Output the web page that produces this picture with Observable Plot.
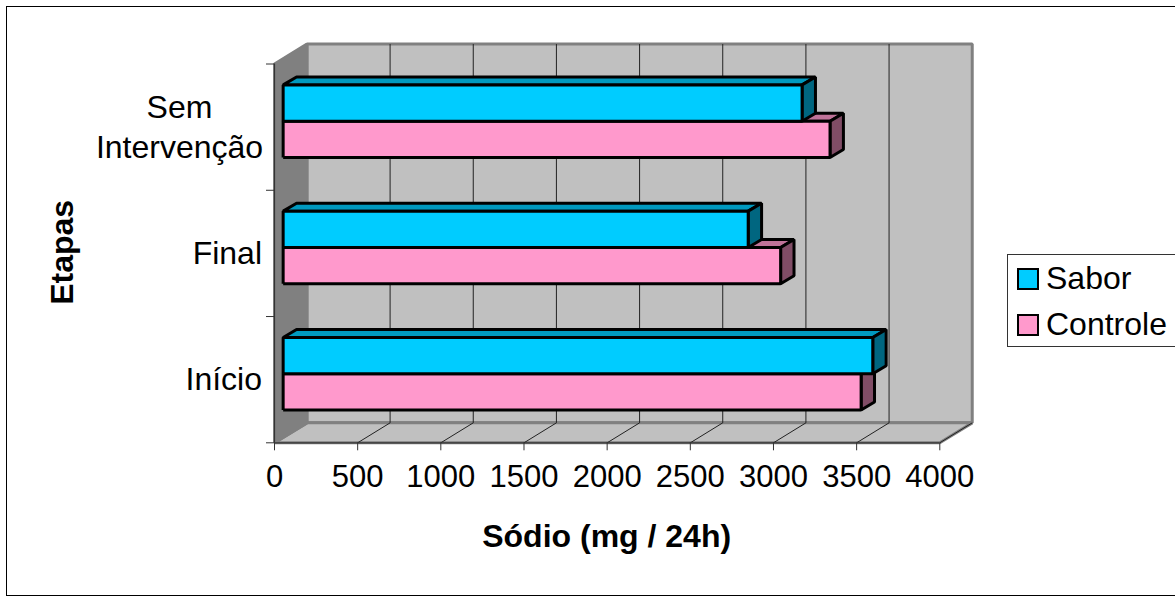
<!DOCTYPE html>
<html>
<head>
<meta charset="utf-8">
<script src="https://cdn.jsdelivr.net/npm/d3@7"></script>
<script src="https://cdn.jsdelivr.net/npm/@observablehq/plot@0.6"></script>
<style>
html,body{margin:0;padding:0;background:#fff;overflow:hidden}
#page{position:relative;width:1175px;height:596px;overflow:hidden;font-family:"Liberation Sans",Arial,sans-serif}
#border{position:absolute;left:6px;top:6px;width:1400px;height:588px;border:1px solid #000;pointer-events:none}
#legend{position:absolute;left:1007px;top:254px;width:400px;height:91px;border:1px solid #333;background:#fff}
.sw{position:absolute;left:9px;width:18px;height:18px;border:2.5px solid #000}
.lb{position:absolute;left:38px;font-size:32px;line-height:36px;color:#000;white-space:nowrap}
</style>
</head>
<body>
<div id="page"><div id="chart"></div><div id="border"></div><div id="legend"></div></div>
<script>
// Data
const categories = ["Início", "Final", "Sem\nIntervenção"];
const sabor = [3545, 2796, 3120];
const controle = [3475, 2991, 3288];
const xTicks = [0, 500, 1000, 1500, 2000, 2500, 3000, 3500, 4000];
const gridTicks = [500, 1000, 1500, 2000, 2500, 3000, 3500];
const yTicks = [0, 1, 2, 3];
const seriesNames = ["Sabor", "Controle"];
const frontColors = ["#00CCFF", "#FF99CC"];
const topColors = ["#0099BF", "#BF7399"];
const sideColors = ["#006680", "#804D66"];
const xLabel = "Sódio (mg / 24h)";
const yLabel = "Etapas";

// 3D projection offsets, in data units of each scale
const depthX = 195, depthY = 0.158;
const barFrontX = 52, barFrontY = 0.047, barBackX = 132.5, barBackY = 0.11;
const barHalf = 0.2875;

let nextId = 0;
function poly(points, fill, stroke) {
  const id = nextId++;
  return points.map(([x, y]) => ({id, x, y, fill, stroke}));
}

const room = [
  ...poly([[depthX,depthY],[4000+depthX,depthY],[4000+depthX,3+depthY],[depthX,3+depthY],[depthX,depthY]], "#C0C0C0", "#808080"),
  ...poly([[0,0],[4000,0],[4000+depthX,depthY],[depthX,depthY],[0,0]], "#C0C0C0", "#808080"),
  ...poly([[0,0],[depthX,depthY],[depthX,3+depthY],[0,3],[0,0]], "#808080", "#808080")
];
const grid = gridTicks.concat(4000).flatMap(t => poly(
  [[t,0],[t+depthX,depthY]].concat(t < 4000 ? [[t+depthX,3+depthY]] : []), "none", "#222"));

function bar(i, s, value) {
  const yc = i + 0.5;
  const hi = (s === 0 ? yc + barHalf : yc) + barFrontY;
  const lo = (s === 0 ? yc : yc - barHalf) + barFrontY;
  const x0 = barFrontX, x1 = value + barFrontX;
  const dx = barBackX - barFrontX, dy = barBackY - barFrontY;
  return [
    ...poly([[x0,hi],[x0+dx,hi+dy],[x1+dx,hi+dy],[x1,hi],[x0,hi]], topColors[s], "#000"),
    ...poly([[x1,hi],[x1+dx,hi+dy],[x1+dx,lo+dy],[x1,lo],[x1,hi]], sideColors[s], "#000"),
    ...poly([[x0,lo],[x1,lo],[x1,hi],[x0,hi],[x0,lo]], frontColors[s], "#000")
  ];
}
const bars = categories.flatMap((c, i) => [...bar(i, 1, controle[i]), ...bar(i, 0, sabor[i])]);

const polyOpts = {x:"x", y:"y", z:"id", fill:"fill", stroke:"stroke", strokeLinejoin:"miter", strokeLinecap:"butt", strokeOpacity:1};

const chart = Plot.plot({
  width: 1175, height: 596,
  marginLeft: 274, marginRight: 235.7, marginTop: 63.5, marginBottom: 153.7,
  x: {domain: [0, 4000]},
  y: {domain: [0, 3]},
  color: {type: "identity"},
  style: {fontFamily: "'Liberation Sans', Arial, sans-serif", background: "#fff", color: "#000", overflow: "visible"},
  marks: [
    Plot.line(room, {...polyOpts, strokeWidth: 3}),
    Plot.line(grid, {...polyOpts, fill: null, strokeWidth: 1}),
    Plot.ruleX([0], {stroke: "#333", strokeWidth: 1.2}),
    Plot.ruleY([0], {stroke: "#333", strokeWidth: 1.2}),
    Plot.axisX({ticks: xTicks, tickSize: 8, label: null, stroke: "#333", tickFormat: () => ""}),
    Plot.axisY({ticks: yTicks, tickSize: 8, tickFormat: () => "", label: null, stroke: "#333"}),
    Plot.line(bars, {...polyOpts, strokeWidth: 3}),
    Plot.text(xTicks, {x: d => d, y: () => 0, text: d => String(d), dy: 34, fontSize: 31, fill: "#000"}),
    Plot.text(categories.slice(0, 2), {x: () => 0, y: (d, i) => i + 0.5, text: d => d, textAnchor: "end", dx: -12.5, fontSize: 32, fill: "#000"}),
    Plot.text(categories.slice(2), {x: () => 0, y: () => 2.5, text: d => d, textAnchor: "middle", dx: -95, dy: -2, fontSize: 32, lineHeight: 1.27, fill: "#000"}),
    Plot.text([yLabel], {x: () => 0, y: () => 1.5, text: d => d, rotate: -90, dx: -212, dy: -1, fontSize: 32, fontWeight: "bold", fill: "#000"}),
    Plot.text([xLabel], {x: () => 2000, y: () => 0, text: d => d, dx: -0.5, dy: 94, fontSize: 32, fontWeight: "bold", fill: "#000"})
  ]
});
document.getElementById("chart").appendChild(chart);

const legend = document.getElementById("legend");
seriesNames.forEach((name, i) => {
  const sw = document.createElement("div");
  sw.className = "sw";
  sw.style.top = (13 + i * 45.5) + "px";
  sw.style.background = frontColors[i];
  legend.appendChild(sw);
  const lb = document.createElement("div");
  lb.className = "lb";
  lb.style.top = (5 + i * 45.5) + "px";
  lb.textContent = name;
  legend.appendChild(lb);
});
</script>
</body>
</html>
